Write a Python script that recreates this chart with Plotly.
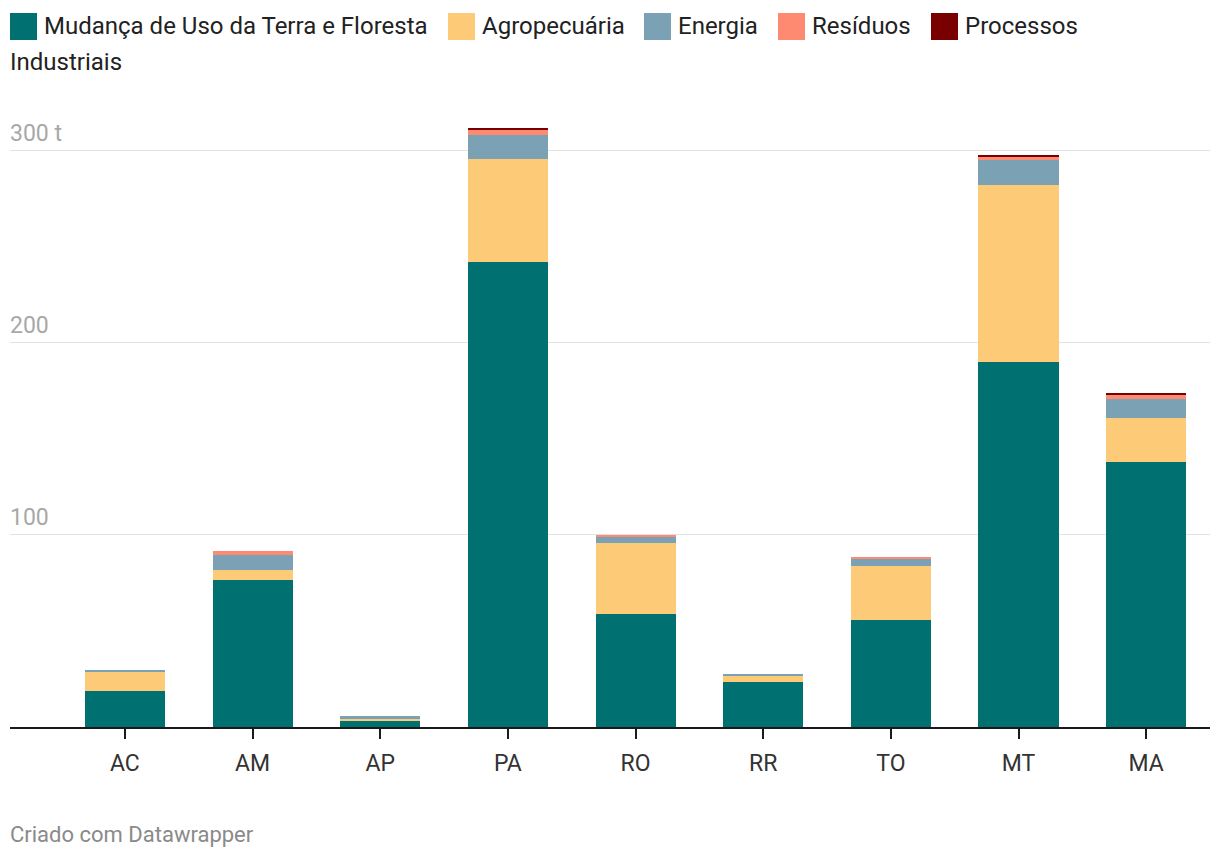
import plotly.graph_objects as go

states = ["AC", "AM", "AP", "PA", "RO", "RR", "TO", "MT", "MA"]
series_names = ["Mudança de Uso da Terra e Floresta", "Agropecuária", "Energia", "Resíduos", "Processos Industriais"]
mut = [18.8, 76.6, 3.6, 242.2, 58.9, 23.4, 55.7, 190.1, 138.0]
agro = [9.9, 5.2, 1.0, 53.6, 36.9, 3.2, 28.2, 92.2, 22.9]
energia = [1.1, 7.6, 1.0, 12.4, 3.2, 1.0, 3.6, 12.9, 10.1]
residuos = [0.0, 2.3, 0.0, 2.8, 1.0, 0.0, 1.0, 1.5, 2.1]
processos = [0.0, 0.0, 0.0, 1.0, 0.0, 0.0, 0.0, 1.2, 1.0]
colors = ["#007070", "#fdca78", "#7ba1b5", "#ff8a72", "#780000"]
ytick_vals = [100, 200, 300]
ytick_text = ["100", "200", "300 t"]

W, H = 1220, 858
ML, MR, MT, MB = 10, 10, 122, 131

fig = go.Figure()
for name, vals, c in zip(series_names, [mut, agro, energia, residuos, processos], colors):
    fig.add_trace(go.Bar(x=states, y=vals, name=name, marker=dict(color=c, line=dict(width=0)),
                         width=0.627, hovertemplate="%{x}: %{y}<extra>" + name + "</extra>"))

def px_x(px):
    return (px - ML) / (W - ML - MR)

def px_y(py):
    return (H - MB - py) / (H - MB - MT)

annotations = []
shapes = []
# y tick labels
for v, t in zip(ytick_vals, ytick_text):
    annotations.append(dict(x=0, xref="paper", y=v, yref="y", text=t, showarrow=False,
                            xanchor="left", yanchor="bottom", yshift=2, xshift=-2,
                            font=dict(family="Roboto", size=23, color="#a8a8a8")))

# legend (manual)
legend_pos = [(10, 44, 26), (448, 482, 26), (644, 678, 26), (778, 812, 26), (931, 965, 26)]
for i, (name, c) in enumerate(zip(series_names, colors)):
    sx, tx, cy = legend_pos[i]
    shapes.append(dict(type="rect", xref="paper", yref="paper",
                       x0=px_x(sx), x1=px_x(sx + 27), y0=px_y(cy + 14), y1=px_y(cy - 13),
                       fillcolor=c, line=dict(width=0)))
    label = name
    if name == "Processos Industriais":
        label = "Processos"
    annotations.append(dict(x=px_x(tx), y=px_y(cy), xref="paper", yref="paper", text=label,
                            showarrow=False, xanchor="left", yanchor="middle", xshift=-2,
                            font=dict(family="Roboto", size=24, color="#222222")))
annotations.append(dict(x=px_x(10), y=px_y(62), xref="paper", yref="paper", text="Industriais",
                        showarrow=False, xanchor="left", yanchor="middle", xshift=-2,
                        font=dict(family="Roboto", size=24, color="#222222")))
# footer
annotations.append(dict(x=px_x(10), y=px_y(834), xref="paper", yref="paper", text="Criado com Datawrapper",
                        showarrow=False, xanchor="left", yanchor="middle", xshift=-2,
                        font=dict(family="Roboto", size=22, color="#8a8a8a")))

fig.update_layout(
    width=W, height=H,
    margin=dict(l=ML, r=MR, t=MT, b=MB, pad=0),
    barmode="stack", bargap=0,
    showlegend=False,
    plot_bgcolor="white", paper_bgcolor="white",
    font=dict(family="Roboto", color="#333333"),
    annotations=annotations, shapes=shapes,
    xaxis=dict(range=[-0.9, 8.5], showline=True, linecolor="#1a1a1a", linewidth=2,
               ticks="outside", ticklen=10, tickwidth=2, tickcolor="#1a1a1a", ticklabelstandoff=4,
               tickfont=dict(family="Roboto", size=23, color="#333333"), showgrid=False, fixedrange=True),
    yaxis=dict(range=[0, 315], tickvals=ytick_vals, showticklabels=False, showgrid=True,
               gridcolor="#e3e3e3", gridwidth=1, zeroline=False, fixedrange=True),
)

fig.write_html("out.html", config={"displayModeBar": False})
